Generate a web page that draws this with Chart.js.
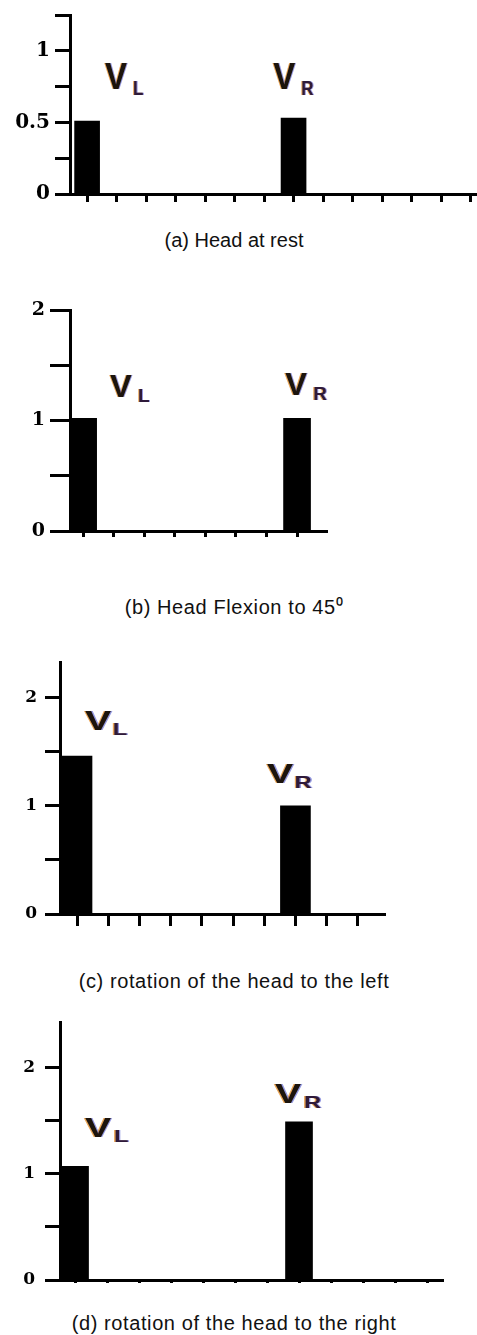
<!DOCTYPE html>
<html>
<head>
<meta charset="utf-8">
<script src="https://cdn.jsdelivr.net/npm/chart.js@4.4.1/dist/chart.umd.min.js"></script>
<style>
  html, body { margin: 0; padding: 0; background: #fff; width: 477px; height: 1335px; overflow: hidden; }
  canvas { position: absolute; left: 0; }
  .cap { position: absolute; left: 0; width: 468px; text-align: center; line-height: 24px;
         font-family: "Liberation Sans", Arial, sans-serif; font-size: 20px; color: #111; white-space: nowrap; }
</style>
</head>
<body>
<canvas id="chart-a" width="477" height="204" style="top:0px"></canvas>
<div class="cap" id="cap-a" style="top:228px"></div>
<canvas id="chart-b" width="330" height="239" style="top:300px"></canvas>
<div class="cap" id="cap-b" style="top:595px;letter-spacing:0.6px"></div>
<canvas id="chart-c" width="390" height="276" style="top:652px"></canvas>
<div class="cap" id="cap-c" style="top:969px;letter-spacing:0.6px"></div>
<canvas id="chart-d" width="450" height="273" style="top:1012px"></canvas>
<div class="cap" id="cap-d" style="top:1311px;letter-spacing:0.6px"></div>

<script>
// bar heights, one entry per slot on the x axis (only V_L and V_R carry a value)
const restValues      = [0.51, 0, 0, 0, 0, 0, 0, 0.53, 0, 0, 0, 0, 0, 0];
const flexionValues   = [1.02, 0, 0, 0, 0, 0, 0, 1.02];
const leftTurnValues  = [1.46, 0, 0, 0, 0, 0, 0, 1.00, 0, 0];
const rightTurnValues = [1.07, 0, 0, 0, 0, 0, 0, 1.49, 0, 0, 0];

const channelNames = ['L', 'R'];
const restTickLabels = [0, 0.5, 1];
const tickLabels = [0, 1, 2];
const captions = [
  '(a) Head at rest',
  '(b) Head Flexion to 45\u2070',
  '(c) rotation of the head to the left',
  '(d) rotation of the head to the right'
];

// draws the "V" with its subscript next to each bar (with the slight colour fringe of the scan)
const vLabels = {
  id: 'vLabels',
  afterDatasetsDraw(chart, args, opts) {
    const { ctx, scales: { x, y } } = chart;
    const fringe = (text, tx, ty, core) => {
      ctx.fillStyle = 'rgba(225,135,30,0.75)';
      ctx.fillText(text, tx - 1, ty);
      ctx.fillStyle = 'rgba(60,70,200,0.55)';
      ctx.fillText(text, tx + 1, ty);
      ctx.fillStyle = core;
      ctx.fillText(text, tx, ty);
    };
    opts.at.forEach((pos, i) => {
      ctx.save();
      ctx.translate(x.getPixelForValue(pos[0]), y.getPixelForValue(pos[1]));
      ctx.scale(opts.sx, opts.sy);
      ctx.textBaseline = 'alphabetic';
      ctx.font = 'bold ' + opts.size + 'px "Liberation Sans", Arial, sans-serif';
      fringe('V', 0, 0, '#1c140d');
      const w = ctx.measureText('V').width;
      ctx.font = 'bold ' + opts.sub + 'px "Liberation Sans", Arial, sans-serif';
      fringe(channelNames[i], w + opts.gap, opts.drop, '#2e1a3a');
      ctx.restore();
    });
  }
};

function onStep(step) {
  return s => {
    s.ticks = s.ticks.filter(t => Math.abs(t.value / step - Math.round(t.value / step)) < 1e-6);
  };
}

function makePanel(id, values, labelled, p) {
  new Chart(document.getElementById(id), {
    type: 'bar',
    data: {
      datasets: [{
        data: values.map((v, i) => ({ x: i, y: v })),
        backgroundColor: '#000',
        borderWidth: 0,
        barThickness: p.bar
      }]
    },
    options: {
      responsive: false,
      animation: false,
      devicePixelRatio: 1,
      layout: { padding: { top: p.padTop, right: p.padRight, bottom: 0, left: 0 } },
      plugins: {
        legend: { display: false },
        tooltip: { enabled: false },
        vLabels: p.label
      },
      scales: {
        x: {
          type: 'linear',
          offset: false,
          min: p.xMin,
          max: p.xMax,
          ticks: { display: false, stepSize: 1, maxTicksLimit: 100, includeBounds: false },
          grid: { offset: false, drawOnChartArea: false, drawTicks: true, tickLength: p.xTick, tickWidth: 3, tickColor: '#000' },
          border: { display: true, width: 3, color: '#000' },
          afterBuildTicks: onStep(1),
          afterFit: s => { s.height = p.xTick + 2; s.paddingLeft = s.paddingRight = 0; }
        },
        y: {
          min: 0,
          max: p.yMax,
          ticks: {
            stepSize: p.yStep,
            includeBounds: false,
            padding: p.labelPad,
            color: '#000',
            font: { family: '"DejaVu Serif", serif', weight: 'bold', size: p.font },
            callback: v => labelled.includes(v) ? String(v) : ''
          },
          grid: { drawOnChartArea: false, drawTicks: true, tickLength: p.yTick, tickWidth: 3, tickColor: '#000' },
          border: { display: true, width: 3, color: '#000' },
          afterBuildTicks: onStep(p.yStep),
          afterFit: s => { s.width = p.yWidth; s.paddingTop = s.paddingBottom = 0; }
        }
      }
    },
    plugins: [vLabels]
  });
}

makePanel('chart-a', restValues, restTickLabels, {
  padTop: 15, padRight: 0, yWidth: 70, yMax: 1.25, yStep: 0.25,
  xMin: -0.58, xMax: 13.22, xTick: 8, yTick: 15, font: 20, labelPad: 5, bar: 25,
  label: { at: [[0.61, 0.73], [6.31, 0.73]], size: 33, sx: 1, sy: 1.14, sub: 17, gap: 6, drop: 5 }
});
makePanel('chart-b', flexionValues, tickLabels, {
  padTop: 10, padRight: 3, yWidth: 70, yMax: 2, yStep: 0.5,
  xMin: -0.43, xMax: 7.98, xTick: 6, yTick: 20, font: 19, labelPad: 5, bar: 27,
  label: { at: [[0.88, 1.21], [6.61, 1.23]], size: 31, sx: 1.05, sy: 1, sub: 18, gap: 6, drop: 5 }
});
makePanel('chart-c', leftTurnValues, tickLabels, {
  padTop: 10, padRight: 5, yWidth: 60, yMax: 2.33, yStep: 0.5,
  xMin: -0.545, xMax: 9.87, xTick: 12, yTick: 15, font: 17, labelPad: 8, bar: 30,
  label: { at: [[0.26, 1.70], [6.09, 1.21]], size: 28, sx: 1.4, sy: 1, sub: 17, gap: 1, drop: 5 }
});
makePanel('chart-d', rightTurnValues, tickLabels, {
  padTop: 10, padRight: 7, yWidth: 60, yMax: 2.43, yStep: 0.5,
  xMin: -0.47, xMax: 11.5, xTick: 3, yTick: 15, font: 17, labelPad: 10, bar: 27,
  label: { at: [[0.31, 1.35], [6.25, 1.67]], size: 28, sx: 1.4, sy: 1, sub: 17, gap: 2, drop: 5 }
});

['cap-a', 'cap-b', 'cap-c', 'cap-d'].forEach((id, i) => {
  document.getElementById(id).textContent = captions[i];
});
</script>
</body>
</html>
